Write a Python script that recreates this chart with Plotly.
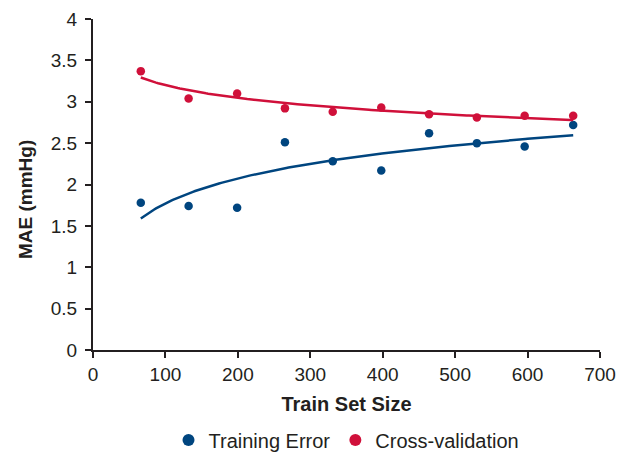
import numpy as np
import plotly.graph_objects as go

train_size = [66, 132, 199, 265, 331, 398, 464, 530, 596, 663]
training_error = [1.78, 1.74, 1.72, 2.51, 2.28, 2.17, 2.62, 2.50, 2.46, 2.72]
cross_validation = [3.37, 3.04, 3.10, 2.92, 2.88, 2.93, 2.85, 2.81, 2.83, 2.83]

x_ticks = [0, 100, 200, 300, 400, 500, 600, 700]
y_ticks = [0, 0.5, 1, 1.5, 2, 2.5, 3, 3.5, 4]

BLUE = "#00457f"
RED = "#d0103a"
INK = "#231f20"
FONT = "Liberation Sans, Arial, Helvetica, sans-serif"

def log_trend(xs, ys):
    xs = np.asarray(xs, float)
    b, a = np.polyfit(np.log(xs), np.asarray(ys, float), 1)
    xx = np.linspace(xs.min(), xs.max(), 200)
    return xx, a + b * np.log(xx)

fig = go.Figure()
for name, ys, col in [("Training Error", training_error, BLUE),
                      ("Cross-validation", cross_validation, RED)]:
    tx, ty = log_trend(train_size, ys)
    fig.add_trace(go.Scatter(x=tx, y=ty, mode="lines", line=dict(color=col, width=2.5),
                             showlegend=False, hoverinfo="skip"))
    fig.add_trace(go.Scatter(x=train_size, y=ys, mode="markers", name=name,
                             marker=dict(color=col, size=8.5)))

fig.update_layout(
    width=632, height=452,
    margin=dict(l=93, r=32, t=19, b=102, autoexpand=False),
    paper_bgcolor="white", plot_bgcolor="white",
    font=dict(family=FONT, size=19, color=INK),
    legend=dict(orientation="h", x=0.5, xanchor="center", y=-0.272, yanchor="middle",
                font=dict(size=20), itemsizing="constant", traceorder="normal",
                itemwidth=30),
    annotations=[dict(text="<b>MAE (mmHg)</b>", textangle=-90, xref="paper", yref="paper",
                      x=(25 - 93) / 507, y=(350 - 200) / 331, xanchor="center",
                      yanchor="middle", showarrow=False, font=dict(size=19, color=INK))],
)
fig.update_xaxes(range=[0, 700], tickvals=x_ticks, showline=True, linecolor=INK,
                 linewidth=2, ticks="outside", ticklen=6, tickwidth=2, tickcolor=INK,
                 showgrid=False, zeroline=False, automargin=False, tickfont=dict(size=19),
                 title=dict(text="<b>Train Set Size</b>", font=dict(size=20), standoff=13))
fig.update_yaxes(range=[0, 4], tickvals=y_ticks, showline=True, linecolor=INK,
                 linewidth=2, ticks="outside", ticklen=6, tickwidth=2, tickcolor=INK,
                 showgrid=False, zeroline=False, automargin=False, tickfont=dict(size=19),
                 ticklabelstandoff=4)

fig.write_html("out.html", config={"displayModeBar": False},
               post_script="document.body.style.margin='0';document.body.style.overflow='hidden';")
